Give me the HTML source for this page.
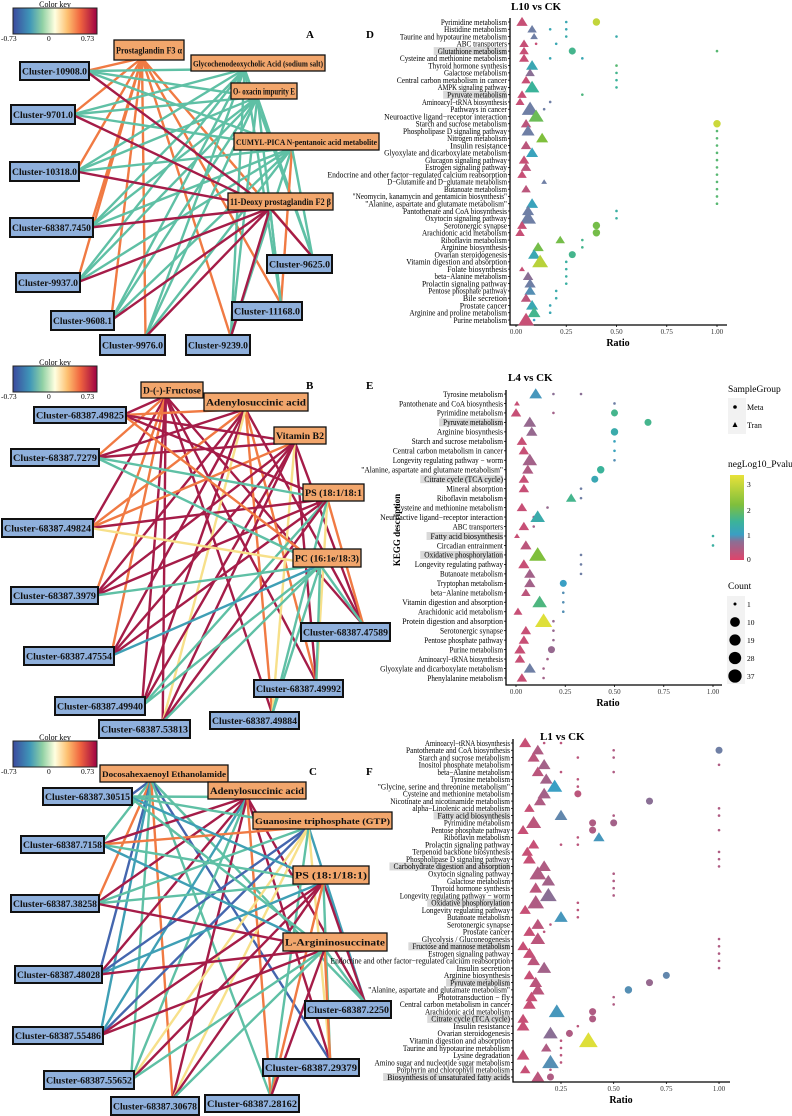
<!DOCTYPE html>
<html><head><meta charset="utf-8"><style>
html,body{margin:0;padding:0;background:#fff;}
svg{display:block;font-family:"Liberation Serif",serif;}
</style></head><body>
<svg id="fig" width="792" height="1116" viewBox="0 0 792 1116" xmlns="http://www.w3.org/2000/svg">
<defs>
<linearGradient id="spec" x1="0" x2="1" y1="0" y2="0">
<stop offset="0" stop-color="#3b4a9e"/><stop offset="0.2" stop-color="#3f96b8"/><stop offset="0.35" stop-color="#8fd0a4"/><stop offset="0.5" stop-color="#ffffe0"/><stop offset="0.65" stop-color="#fdbf6f"/><stop offset="0.8" stop-color="#f0653f"/><stop offset="1" stop-color="#9e0142"/>
</linearGradient>
<linearGradient id="pg" x1="0" x2="0" y1="1" y2="0">
<stop offset="0" stop-color="#e0436a"/><stop offset="0.22" stop-color="#8a6f95"/><stop offset="0.3" stop-color="#3a9fc4"/><stop offset="0.45" stop-color="#3bb39a"/><stop offset="0.65" stop-color="#7fbf3c"/><stop offset="1" stop-color="#e8e23a"/>
</linearGradient>
</defs>
<g id="nets"></g>
<g id="dots"></g>
<g id="legend"></g>
</svg>
<script>
const NS="http://www.w3.org/2000/svg";
function mk(tag,attrs,parent,txt){const e=document.createElementNS(NS,tag);for(const k in attrs)e.setAttribute(k,attrs[k]);if(txt!==undefined)e.textContent=txt;parent.appendChild(e);return e;}
const EC={r:"#a51c48",o:"#f07a43",g:"#5fc0a5",b:"#4466ae",y:"#f7e08a",t:"#3f9fb5"};

// ---------- Network data ----------
const netA_orange=[["Prostaglandin F3  α",114,40,70,20],["Glycochenodeoxycholic Acid (sodium salt)",191,55,134,16],["O- oxacin impurity E",231,83,66,16],["CUMYL-PICA N-pentanoic acid metabolite",234,133,145,17],["11-Deoxy prostaglandin F2  β",228,193,105,17]];
const netA_blue=[["Cluster-10908.0",20,62,69,18],["Cluster-9701.0",11,105,64,19],["Cluster-10318.0",10,162,69,19],["Cluster-68387.7450",10,218,83,19],["Cluster-9937.0",16,273,64,19],["Cluster-9608.1",51,311,63,19],["Cluster-9976.0",100,335,65,20],["Cluster-9239.0",186,335,64,20],["Cluster-11168.0",232,302,70,18],["Cluster-9625.0",267,255,65,18]];
const netA_edges=["oooooooooo","gggggggggg","gggggggggg","ggggggggog","rrrrrrrrgr"];
const netB_orange=[["D-(-)-Fructose",141,382,62,16],["Adenylosuccinic acid",204,393,104,18],["Vitamin B2",274,427,52,17],["PS (18:1/18:1",303,484,61,17],["PC (16:1e/18:3)",293,549,68,18]];
const netB_blue=[["Cluster-68387.49825",34,407,92,16],["Cluster-68387.7279",11,449,88,17],["Cluster-68387.49824",2,519,91,18],["Cluster-68387.3979",11,587,87,17],["Cluster-68387.47589",301,623,89,18],["Cluster-68387.47554",24,647,90,18],["Cluster-68387.49992",254,680,89,17],["Cluster-68387.49940",55,697,90,18],["Cluster-68387.49884",210,712,89,17],["Cluster-68387.53813",99,720,91,18]];
const netB_edges=["rorororrrr","ororrroroy","rrorrrrryr","rgrroryggr","ogyggtgggg"];
const netC_orange=[["Docosahexaenoyl Ethanolamide",100,765,128,17],["Adenylosuccinic acid",208,782,98,17],["Guanosine triphosphate (GTP)",253,812,139,17],["PS (18:1/18:1)",293,866,76,18],["L-Argininosuccinate",283,933,104,18]];
const netC_blue=[["Cluster-68387.30515",43,788,89,17],["Cluster-68387.7158",21,836,83,17],["Cluster-68387.38258",11,895,88,17],["Cluster-68387.48028",15,966,87,17],["Cluster-68387.2250",305,1001,86,17],["Cluster-68387.55486",13,1027,90,17],["Cluster-68387.29379",263,1059,96,17],["Cluster-68387.55652",44,1071,90,18],["Cluster-68387.30678",111,1097,88,18],["Cluster-68387.28162",205,1095,94,17]];
const netC_edges=["bgobgtbgog","grrrrtrgro","gogbtbyyyg","tggtrrgrro","gtrrgroggr"];

function colorKey(g,x,y){
  mk("text",{x:x+42,y:y-1,"font-size":8,"text-anchor":"middle"},g,"Color key");
  const r=mk("rect",{x:x,y:y,width:84,height:26,fill:"url(#spec)",stroke:"#222","stroke-width":1},g);
  
  mk("text",{x:x-12,y:y+33,"font-size":7.5},g,"-0.73");
  mk("text",{x:x+34,y:y+33,"font-size":7.5},g,"0");
  mk("text",{x:x+68,y:y+33,"font-size":7.5},g,"0.73");
}
function blueAnchor(b){const cx=b[1]+b[3]/2;return cx<120?[b[1]+b[3]-3,b[2]+b[4]/2]:[cx+b[3]*0.2,b[2]+2];}
function orangeAnchor(o){return [o[1]+o[3]*0.4,o[2]+o[4]-2];}
function drawNet(name,orange,blue,edges,ky,lbl,lx,ly){
  const g=mk("g",{},document.getElementById("nets"));
  
  
  colorKey(g,13,ky);
  edges.forEach((s,i)=>{const oa=orangeAnchor(orange[i]);
    for(let j=0;j<blue.length;j++){const ba=blueAnchor(blue[j]);
      const l=mk("line",{x1:oa[0],y1:oa[1],x2:ba[0],y2:ba[1],stroke:EC[s[j]],"stroke-width":2.4},g);
      }});
  const nodes=(arr,fill,bw,cls)=>arr.forEach(n=>{
    const r=mk("rect",{x:n[1],y:n[2],width:n[3],height:n[4],fill:fill,stroke:"#111","stroke-width":bw},g);
    
    const t=mk("text",{x:n[1]+n[3]/2,y:n[2]+n[4]/2+3.5,"font-size":n[3]>120?8:9,"font-weight":"bold","text-anchor":"middle",fill:"#111",textLength:n[3]-4,lengthAdjust:"spacingAndGlyphs"},g,n[0]);
    });
  nodes(orange,"#f2a66c",1.3,"metabolite-node");
  nodes(blue,"#8fb0dc",2,"gene-cluster-node");
  const pl=mk("text",{x:lx,y:ly,"font-size":11,"font-weight":"bold"},g,lbl);
  
}
drawNet("network-a",netA_orange,netA_blue,netA_edges,8,"A",306,38);
drawNet("network-b",netB_orange,netB_blue,netB_edges,366,"B",306,389);
drawNet("network-c",netC_orange,netC_blue,netC_edges,741,"C",309,775);

// ---------- Dot plot data ----------
const D_labels=["Pyrimidine metabolism","Histidine metabolism","Taurine and hypotaurine metabolism","ABC transporters","Glutathione metabolism","Cysteine and methionine metabolism","Thyroid hormone synthesis","Galactose metabolism","Central carbon metabolism in cancer","AMPK signaling pathway","Pyruvate metabolism","Aminoacyl−tRNA biosynthesis","Pathways in cancer","Neuroactive ligand−receptor interaction","Starch and sucrose metabolism","Phospholipase D signaling pathway","Nitrogen metabolism","Insulin resistance","Glyoxylate and dicarboxylate metabolism","Glucagon signaling pathway","Estrogen signaling pathway","Endocrine and other factor−regulated calcium reabsorption","D−Glutamine and D−glutamate metabolism","Butanoate metabolism","\"Neomycin, kanamycin and gentamicin biosynthesis\"","\"Alanine, aspartate and glutamate metabolism\"","Pantothenate and CoA biosynthesis","Oxytocin signaling pathway","Serotonergic synapse","Arachidonic acid metabolism","Riboflavin metabolism","Arginine biosynthesis","Ovarian steroidogenesis","Vitamin digestion and absorption","Folate biosynthesis","beta−Alanine metabolism","Prolactin signaling pathway","Pentose phosphate pathway","Bile secretion","Prostate cancer","Arginine and proline metabolism","Purine metabolism"];
const D_hl=[4,10];
const D_tri=[[0.03,10,0.2],[0.08,6,0.8],[0.09,3,0.8],[0.04,6,0.2],[0.04,6,0.2],[0.04,7,0.2],[0.08,12,1.2],[0.07,6,0.7],[0.05,6,0.2],[0.08,20,1.5],[0.03,6,0.2],[0.02,5,0.2],[0.07,28,0.8],[0.10,22,2.0],[0.05,8,0.3],[0.06,15,0.8],[0.13,12,2.2],[0.05,8,0.3],[0.08,12,1.1],[0.04,8,0.2],[0.05,8,0.3],[0.03,6,0.2],[0.14,1,0.8],[0.05,6,0.3],[0,0,0],[0.08,12,1.1],[0.06,12,0.8],[0.06,25,0.8],[0.03,7,0.2],[0.02,6,0.2],[0.22,6,2.1],[0.11,10,2.1],[0.09,12,1.2],[0.12,25,2.8],[0.03,1,0.2],[0.06,8,0.7],[0.07,10,0.8],[0.07,10,0.9],[0.05,8,0.3],[0.08,12,1.2],[0.09,14,1.6],[0.05,25,0.2]];
const D_meta=[[[0.25,1,1.2],[0.40,6,2.9]],[[0.17,1,1.2],[0.25,1,1.2]],[[0.25,1,1.3],[0.50,1,1.3]],[[0.10,1,0.2],[0.20,1,1.2]],[[0.28,5,1.6],[1.00,1,1.8]],[[0.17,1,1.2],[0.33,1,1.2]],[[0.50,1,1.8]],[[0.50,1,1.6]],[[0.50,1,1.5]],[[0.50,1,1.5]],[[0.33,1,1.7]],[[0.17,1,0.8]],[[0.14,1,0.8]],[],[[1.00,6,3.0]],[[1.00,1,1.8]],[[1.00,1,1.8]],[[1.00,1,1.8]],[[1.00,1,1.8]],[[1.00,1,1.8]],[[1.00,1,1.8]],[[1.00,1,1.8]],[[1.00,1,1.8]],[[1.00,1,1.8]],[[1.00,1,1.8]],[[1.00,1,1.8]],[[0.50,1,1.4]],[[0.50,1,1.4]],[[0.40,6,2.1]],[[0.40,6,2.1]],[[0.33,1,1.6]],[[0.33,1,1.6]],[[0.28,5,1.6]],[[0.25,1,1.4]],[[0.25,1,1.4]],[[0.25,1,1.4]],[[0.25,1,1.4]],[[0.20,1,1.3]],[[0.20,1,1.3]],[[0.17,1,1.2]],[[0.17,1,1.2]],[[0.09,1,1.0]]];

const E_labels=["Tyrosine metabolism","Pantothenate and CoA biosynthesis","Pyrimidine metabolism","Pyruvate metabolism","Arginine biosynthesis","Starch and sucrose metabolism","Central carbon metabolism in cancer","Longevity regulating pathway − worm","\"Alanine, aspartate and glutamate metabolism\"","Citrate cycle (TCA cycle)","Mineral absorption","Riboflavin metabolism","Cysteine and methionine metabolism","Neuroactive ligand−receptor interaction","ABC transporters","Fatty acid biosynthesis","Circadian entrainment","Oxidative phosphorylation","Longevity regulating pathway","Butanoate metabolism","Tryptophan metabolism","beta−Alanine metabolism","Vitamin digestion and absorption","Arachidonic acid metabolism","Protein digestion and absorption","Serotonergic synapse","Pentose phosphate pathway","Purine metabolism","Aminoacyl−tRNA biosynthesis","Glyoxylate and dicarboxylate metabolism","Phenylalanine metabolism"];
const E_hl=[3,9,15,17];
const E_tri=[[0.10,14,0.95],[0.005,1,0.2],[0.0,8,0.2],[0.07,14,0.6],[0.08,10,0.6],[0.03,8,0.2],[0.04,8,0.2],[0.07,20,0.5],[0.06,10,0.4],[0.04,8,0.2],[0.04,8,0.2],[0.28,8,1.6],[0.03,8,0.2],[0.11,20,1.3],[0.04,8,0.2],[0.005,1,0.2],[0.05,10,0.3],[0.11,30,2.2],[0.04,10,0.2],[0.07,10,0.5],[0.07,10,0.5],[0.05,6,0.3],[0.12,20,1.7],[0.01,5,0.2],[0.14,30,3.2],[0.05,8,0.2],[0.04,8,0.2],[0.02,10,0.2],[0.02,8,0.2],[0.07,12,0.8],[0.03,8,0.2]];
const E_meta=[[[0.19,1,0.7],[0.33,1,0.7]],[[0.50,1,0.8]],[[0.19,1,0.5],[0.50,5,1.6]],[[0.67,5,1.6]],[[0.50,6,1.3]],[[0.50,1,1.1]],[[0.50,1,1.1]],[[0.50,1,0.9]],[[0.43,6,1.5]],[[0.40,5,1.2]],[[0.33,1,0.8]],[[0.33,1,0.8]],[[0.16,1,0.6]],[[0.09,1,0.5]],[[0.09,1,0.5]],[[1.00,1,1.4]],[[1.00,1,1.4]],[[0.33,1,0.8]],[[0.33,1,0.8]],[[0.33,1,0.8]],[[0.24,5,1.0]],[[0.24,1,0.9]],[[0.24,1,0.9]],[[0.24,1,0.9]],[[0.19,1,0.6]],[[0.19,1,0.6]],[[0.19,1,0.6]],[[0.18,5,0.6]],[[0.16,1,0.5]],[[0.14,1,0.5]],[[0.14,1,0.5]]];

const F_labels=["Aminoacyl−tRNA biosynthesis","Pantothenate and CoA biosynthesis","Starch and sucrose metabolism","Inositol phosphate metabolism","beta−Alanine metabolism","Tyrosine metabolism","\"Glycine, serine and threonine metabolism\"","Cysteine and methionine metabolism","Nicotinate and nicotinamide metabolism","alpha−Linolenic acid metabolism","Fatty acid biosynthesis","Pyrimidine metabolism","Pentose phosphate pathway","Riboflavin metabolism","Prolactin signaling pathway","Terpenoid backbone biosynthesis","Phospholipase D signaling pathway","Carbohydrate digestion and absorption","Oxytocin signaling pathway","Galactose metabolism","Thyroid hormone synthesis","Longevity regulating pathway − worm","Oxidative phosphorylation","Longevity regulating pathway","Butanoate metabolism","Serotonergic synapse","Prostate cancer","Glycolysis / Gluconeogenesis","Fructose and mannose metabolism","Estrogen signaling pathway","Endocrine and other factor−regulated calcium reabsorption","Insulin secretion","Arginine biosynthesis","Pyruvate metabolism","\"Alanine, aspartate and glutamate metabolism\"","Phototransduction − fly","Central carbon metabolism in cancer","Arachidonic acid metabolism","Citrate cycle (TCA cycle)","Insulin resistance","Ovarian steroidogenesis","Vitamin digestion and absorption","Taurine and hypotaurine metabolism","Lysine degradation","Amino sugar and nucleotide sugar metabolism","Porphyrin and chlorophyll metabolism","Biosynthesis of unsaturated fatty acids"];
const F_hl=[10,17,22,28,33,38,46];
const F_tri=[[0.08,12,0.2],[0.14,12,0.4],[0.12,12,0.3],[0.17,14,0.5],[0.14,12,0.3],[0.18,14,0.5],[0.22,22,1.0],[0.17,16,0.5],[0.15,12,0.4],[0.10,8,0.2],[0.25,14,0.85],[0.12,22,0.3],[0.07,10,0.2],[0.43,10,0.95],[0.12,10,0.2],[0.09,10,0.2],[0.10,14,0.2],[0.17,16,0.4],[0.14,28,0.4],[0.19,16,0.5],[0.13,14,0.3],[0.19,28,0.7],[0.13,28,0.4],[0.08,10,0.2],[0.25,16,0.95],[0.14,14,0.3],[0.10,12,0.2],[0.14,20,0.3],[0.07,10,0.2],[0.10,14,0.2],[0.12,14,0.3],[0.17,18,0.5],[0.10,10,0.2],[0.13,14,0.3],[0.14,16,0.3],[0.11,12,0.2],[0.10,14,0.2],[0.23,25,0.95],[0.07,10,0.2],[0.07,14,0.2],[0.20,20,0.7],[0.38,37,3.2],[0.18,8,0.4],[0.07,14,0.2],[0.20,28,0.9],[0.08,8,0.2],[0.14,14,0.3]];
const F_meta=[[[0.17,1,0.3],[0.25,1,0.3]],[[0.50,1,0.4],[1.00,5,0.8]],[[0.33,1,0.3],[0.50,1,0.4]],[[1.00,1,0.4]],[[0.25,1,0.3],[0.50,1,0.4]],[[0.33,1,0.3]],[[0.33,1,0.3]],[[0.33,5,0.3]],[[0.67,5,0.7]],[[1.00,1,0.4]],[[0.50,1,0.4],[1.00,1,0.4]],[[0.40,5,0.4],[0.50,5,0.5]],[[0.40,5,0.4],[1.00,1,0.4]],[[0.33,1,0.3]],[[0.25,1,0.3],[0.33,1,0.3]],[[1.00,1,0.4]],[[1.00,1,0.4]],[[1.00,1,0.4]],[[0.50,1,0.4]],[[0.50,1,0.4]],[[0.50,1,0.4]],[[0.50,1,0.4]],[[0.33,1,0.3]],[[0.33,1,0.3]],[[0.33,1,0.3]],[[0.20,1,0.3]],[[0.17,1,0.3]],[[1.00,1,0.4]],[[1.00,1,0.4]],[[1.00,1,0.4]],[[1.00,1,0.4]],[[1.00,1,0.4]],[[0.75,5,0.85]],[[0.67,5,0.6]],[[0.57,6,0.9]],[[0.50,1,0.4]],[[0.50,1,0.4]],[[0.40,5,0.4]],[[0.40,5,0.4]],[[0.33,1,0.3]],[[0.29,5,0.4]],[[0.25,1,0.3]],[[0.25,1,0.3]],[[0.25,1,0.3]],[[0.25,1,0.3]],[[0.20,1,0.3]],[[0.20,5,0.4]]];

const ticks=[0,0.25,0.5,0.75,1.0];
const tickLabels=["0.00","0.25","0.50","0.75","1.00"];

function hexToRgb(h){return [parseInt(h.substr(1,2),16),parseInt(h.substr(3,2),16),parseInt(h.substr(5,2),16)];}
const pStops=[[0,"#e0436a"],[0.7,"#8a6f95"],[1.0,"#3a9fc4"],[1.5,"#3bb39a"],[2.2,"#7fbf3c"],[3.3,"#e8e23a"]];
function pColor(v){for(let i=1;i<pStops.length;i++){if(v<=pStops[i][0]){const a=pStops[i-1],b=pStops[i];const t=(v-a[0])/(b[0]-a[0]);const ca=hexToRgb(a[1]),cb=hexToRgb(b[1]);return "rgb("+ca.map((c,k)=>Math.round(c+(cb[k]-c)*t)).join(",")+")";}}return pStops[pStops.length-1][1];}
function triSize(c){return c<=0?0:1.5+Math.sqrt(c)*1.15;}
function dotR(c){return c<=1?1.3:1.5+Math.sqrt(c)*0.9;}

function dotPanel(name,cfg,labels,hl,tri,meta,showTicks0){
  const g=mk("g",{},document.getElementById("dots"));
  
  
  const n=labels.length;
  const x=v=>cfg.x0+(v-cfg.v0)*cfg.k;
  const y=i=>cfg.yTop+i*(cfg.yBot-cfg.yTop)/(n-1);
  hl.forEach(i=>{const w=labels[i].length*3.15+4;const r=mk("rect",{x:cfg.ax-w-3,y:y(i)-4,width:w,height:8,fill:"#d9d9d9"},g);
    });
  labels.forEach((l,i)=>{const t=mk("text",{x:cfg.ax-3,y:y(i)+2.8,"font-size":8.2,"text-anchor":"end",textLength:l.length*3.15,lengthAdjust:"spacingAndGlyphs"},g,l);
    
    mk("line",{x1:cfg.ax-2,x2:cfg.ax,y1:y(i),y2:y(i),stroke:"#000","stroke-width":0.8},g);});
  const ax=mk("path",{d:`M${cfg.ax},${cfg.yTop-4}V${cfg.axB}H${cfg.axR}`,fill:"none",stroke:"#000","stroke-width":1.3},g);
  
  ticks.forEach((t,i)=>{if(!showTicks0&&i==0)return;const xx=x(t);
    mk("line",{x1:xx,x2:xx,y1:cfg.axB,y2:cfg.axB+2,stroke:"#000","stroke-width":0.8},g);
    const tl=mk("text",{x:xx,y:cfg.axB+9,"font-size":7,"text-anchor":"middle",fill:"#333"},g,tickLabels[i]);
    });
  const xt=mk("text",{x:cfg.titleX,y:cfg.axB+21,"font-size":10,"font-weight":"bold","text-anchor":"middle"},g,"Ratio");
  
  meta.forEach((arr,i)=>arr.forEach(d=>{const c=mk("circle",{cx:x(d[0]),cy:y(i),r:dotR(d[1]),fill:pColor(d[2])},g);
    }));
  tri.forEach((d,i)=>{if(d[1]<=0)return;const s=triSize(d[1]);const cx=x(d[0]),cy=y(i);
    const p=mk("polygon",{points:`${cx},${cy-s} ${cx-s*1.1},${cy+s*0.75} ${cx+s*1.1},${cy+s*0.75}`,fill:pColor(d[2])},g);
    });
  const tt=mk("text",{x:cfg.tx,y:cfg.ty,"font-size":11,"font-weight":"bold"},g,cfg.title);
  
  const pl=mk("text",{x:cfg.lx,y:cfg.ly,"font-size":11,"font-weight":"bold"},g,cfg.letter);
  
}
dotPanel("dotplot-d",{x0:516,v0:0,k:201,ax:510,axR:727,axB:325,yTop:22,yBot:320,titleX:618,tx:511,ty:10,title:"L10 vs CK",lx:366,ly:38,letter:"D"},D_labels,D_hl,D_tri,D_meta,true);
dotPanel("dotplot-e",{x0:516,v0:0,k:197,ax:506,axR:722,axB:685,yTop:394,yBot:678,titleX:608,tx:508,ty:381,title:"L4 vs CK",lx:366,ly:389,letter:"E"},E_labels,E_hl,E_tri,E_meta,true);
dotPanel("dotplot-f",{x0:561,v0:0.25,k:210.7,ax:513,axR:730,axB:1082,yTop:743,yBot:1077,titleX:621,tx:540,ty:740,title:"L1 vs CK",lx:366,ly:775,letter:"F"},F_labels,F_hl,F_tri,F_meta,false);

const yt=mk("text",{x:0,y:0,"font-size":9,"font-weight":"bold","text-anchor":"middle",transform:"translate(400,530) rotate(-90)"},document.getElementById("dots"),"KEGG description");


const L=document.getElementById("legend");
const legendCounts=[1,10,19,28,37];
mk("text",{x:728,y:392,"font-size":9.5},L,"SampleGroup");
mk("rect",{x:728,y:398,width:18,height:36,fill:"#f2f2f2"},L);
mk("circle",{cx:735,cy:407,r:1.8,fill:"#000"},L);mk("text",{x:747,y:410,"font-size":8},L,"Meta");
mk("polygon",{points:"735,422 732.5,427 737.5,427",fill:"#000"},L);mk("text",{x:747,y:428,"font-size":8},L,"Tran");
mk("text",{x:728,y:467,"font-size":9.5},L,"negLog10_Pvalue");
const cb=mk("rect",{x:730,y:475,width:14,height:85,fill:"url(#pg)"},L);

[["3",484],["2",510],["1",535],["0",559]].forEach(a=>mk("text",{x:747,y:a[1]+3,"font-size":7.5},L,a[0]));
mk("text",{x:728,y:589,"font-size":9.5},L,"Count");
mk("rect",{x:727,y:596,width:18,height:88,fill:"#f2f2f2"},L);
legendCounts.forEach((c,i)=>{const yy=604+i*18;const cc=mk("circle",{cx:735,cy:yy,r:c==1?1.5:3+Math.sqrt(c)*0.6,fill:"#000"},L);
  
  mk("text",{x:747,y:yy+3,"font-size":7.5},L,String(c));});
</script>
</body></html>
